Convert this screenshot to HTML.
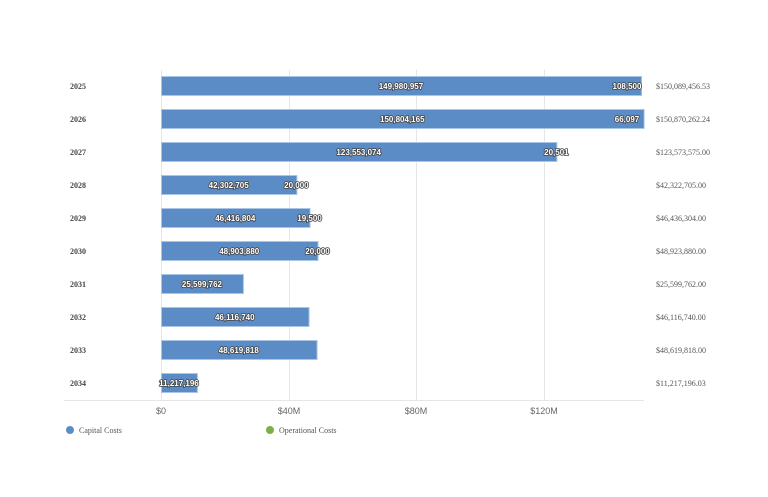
<!DOCTYPE html>
<html><head><meta charset="utf-8"><style>
body{margin:0;background:#fff;width:768px;height:492px;overflow:hidden}
.y{font:bold 8px "Liberation Serif",serif;fill:#444}
.t{font:8px "Liberation Serif",serif;fill:#555}
.v{font:bold 8px "Liberation Sans",sans-serif;fill:#fff;stroke:#444;stroke-width:1.6px;paint-order:stroke;stroke-linejoin:round;text-anchor:middle}
.x{font:9px "Liberation Sans",sans-serif;fill:#666;text-anchor:middle}
.l{font:8px "Liberation Serif",serif;fill:#555}
</style></head><body>
<svg width="768" height="492" xmlns="http://www.w3.org/2000/svg">
<g stroke="#e6e6e6" stroke-width="1">
<line x1="161.5" y1="70" x2="161.5" y2="400"/><line x1="289.5" y1="70" x2="289.5" y2="400"/>
<line x1="416.5" y1="70" x2="416.5" y2="400"/><line x1="544.5" y1="70" x2="544.5" y2="400"/>
<line x1="64" y1="400.5" x2="644" y2="400.5"/>
</g>
<g id="bars"></g>
<text class="x" x="161" y="414">$0</text><text class="x" x="289" y="414">$40M</text>
<text class="x" x="416" y="414">$80M</text><text class="x" x="544" y="414">$120M</text>
<circle cx="70" cy="430" r="4" fill="#5b8cc6"/><text class="l" x="79" y="433">Capital Costs</text>
<circle cx="270" cy="430" r="4" fill="#7cae4a"/><text class="l" x="279" y="433">Operational Costs</text>
</svg>
<script>
var d=[[2025,149980957,108500,"$150,089,456.53"],[2026,150804165,66097,"$150,870,262.24"],[2027,123553074,20501,"$123,573,575.00"],[2028,42302705,20000,"$42,322,705.00"],[2029,46416804,19500,"$46,436,304.00"],[2030,48903880,20000,"$48,923,880.00"],[2031,25599762,0,"$25,599,762.00"],[2032,46116740,0,"$46,116,740.00"],[2033,48619818,0,"$48,619,818.00"],[2034,11217196,0,"$11,217,196.03"]];
var s="",k=3.2e-6;
function f(n){return n.toLocaleString("en-US")}
d.forEach(function(r,i){var c=86+i*33,w=r[1]*k,e=161+w;
s+='<rect x="161.5" y="'+(c-9.5)+'" width="'+w+'" height="19" fill="#5b8cc6" stroke="#a9c6e8" stroke-width="1"/>';
if(r[2])s+='<rect x="'+e+'" y="'+(c-9.5)+'" width="'+(r[2]*k)+'" height="19" fill="#7cae4a"/>';
s+='<text class="y" x="70" y="'+(c+3)+'">'+r[0]+'</text>';
s+='<text class="v" x="'+(161+w/2)+'" y="'+(c+3)+'">'+f(r[1])+'</text>';
if(r[2]){var lx=Math.min(e,627);s+='<text class="v" x="'+lx+'" y="'+(c+3)+'">'+f(r[2])+'</text>';}
s+='<text class="t" x="656" y="'+(c+3)+'">'+r[3]+'</text>';});
document.getElementById("bars").innerHTML=s;
</script>
</body></html>
